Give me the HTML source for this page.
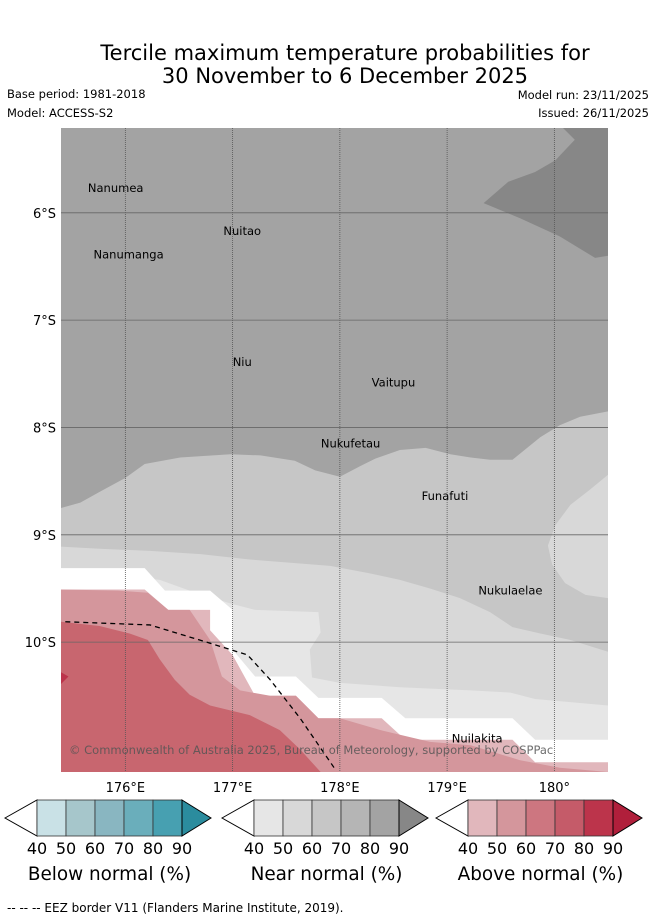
<!DOCTYPE html>
<html><head><meta charset="utf-8"><style>
body{margin:0;background:#fff;width:655px;height:919px;overflow:hidden;font-family:"DejaVu Sans","Liberation Sans",sans-serif}
svg{display:block;font-family:"DejaVu Sans","Liberation Sans",sans-serif}
</style></head><body>
<svg id="chart" width="655" height="919" viewBox="0 0 655 919">
<text x="345" y="60" text-anchor="middle" font-size="21" fill="#000">Tercile maximum temperature probabilities for</text>
<text x="345" y="83" text-anchor="middle" font-size="21" fill="#000">30 November to 6 December 2025</text>
<text x="7" y="98" font-size="11.5">Base period: 1981-2018</text>
<text x="7" y="117" font-size="11.5">Model: ACCESS-S2</text>
<text x="649" y="99" font-size="11.5" text-anchor="end">Model run: 23/11/2025</text>
<text x="649" y="117" font-size="11.5" text-anchor="end">Issued: 26/11/2025</text>
<defs><clipPath id="mapclip"><rect x="61" y="128" width="547" height="644"/></clipPath></defs>
<g id="map" clip-path="url(#mapclip)"></g>
<g id="overlay"></g>
<text x="7" y="912" font-size="12">--  --  -- EEZ border V11 (Flanders Marine Institute, 2019).</text>
</svg>
<script>
const NS='http://www.w3.org/2000/svg';
// map extents (lon E, lat S)
const lonMin=175.40, lonMax=180.50, latTop=5.21, latBot=11.21;
const lonTicks=[176,177,178,179,180];
const lonTickLabels=['176°E','177°E','178°E','179°E','180°'];
const latTicks=[6,7,8,9,10];
const latTickLabels=['6°S','7°S','8°S','9°S','10°S'];
// contour regions [lon,latS]
const regionDark=[[180.08,5.21],[180.19,5.32],[180.01,5.51],[179.82,5.62],[179.57,5.71],[179.34,5.91],[179.68,6.05],[180.05,6.22],[180.38,6.42],[180.50,6.40],[180.50,5.21]];
const regionLight1=[[175.40,8.75],[175.58,8.70],[175.76,8.60],[176.0,8.47],[176.18,8.34],[176.51,8.28],[176.98,8.25],[177.26,8.26],[177.58,8.31],[177.77,8.40],[178.0,8.46],[178.19,8.36],[178.33,8.29],[178.56,8.21],[178.80,8.19],[179.03,8.25],[179.22,8.28],[179.40,8.30],[179.61,8.30],[179.87,8.09],[180.05,7.98],[180.24,7.90],[180.50,7.85],[180.50,11.21],[175.40,11.21]];
const regionLight2=[[175.40,9.11],[175.76,9.13],[176.23,9.15],[176.70,9.18],[177.16,9.23],[177.91,9.29],[178.28,9.36],[178.56,9.42],[178.84,9.50],[179.12,9.59],[179.40,9.72],[179.61,9.86],[179.87,9.92],[180.15,9.98],[180.50,10.09],[180.50,11.21],[175.40,11.21]];
const regionLight2b=[[180.50,8.44],[180.33,8.58],[180.15,8.72],[180.01,8.91],[179.94,9.10],[179.98,9.28],[180.10,9.45],[180.29,9.56],[180.50,9.59]];
const regionLight3=[[176.32,9.42],[176.60,9.52],[176.98,9.64],[177.21,9.70],[177.80,9.72],[177.82,9.91],[177.72,10.07],[177.74,10.33],[178.0,10.38],[178.56,10.42],[179.22,10.45],[179.59,10.47],[179.82,10.53],[180.50,10.59],[180.50,11.21],[175.40,11.21],[175.40,9.31]];
const regionBlank=[[175.40,9.31],[176.18,9.31],[176.37,9.52],[176.79,9.52],[177.0,9.70],[177.0,10.07],[177.21,10.32],[177.59,10.32],[177.80,10.52],[178.39,10.52],[178.61,10.71],[179.61,10.71],[179.82,10.91],[180.50,10.91],[180.50,11.21],[175.40,11.21]];
const regionPink1=[[175.40,9.51],[176.18,9.51],[176.40,9.70],[176.79,9.70],[176.79,9.89],[177.0,10.12],[177.21,10.50],[177.59,10.50],[177.80,10.71],[178.39,10.71],[178.61,10.91],[179.61,10.91],[179.82,11.12],[180.50,11.12],[180.50,11.21],[175.40,11.21]];
const regionPink2=[[175.40,9.51],[175.93,9.52],[176.21,9.54],[176.40,9.70],[176.60,9.70],[176.79,9.98],[176.90,10.32],[177.07,10.45],[177.35,10.50],[177.59,10.50],[177.80,10.71],[178.0,10.71],[178.38,10.82],[178.84,10.93],[179.22,10.96],[179.68,11.10],[180.05,11.17],[180.50,11.21],[175.40,11.21]];
const regionPink3=[[175.40,9.81],[175.76,9.85],[176.04,9.92],[176.21,9.98],[176.32,10.16],[176.46,10.35],[176.60,10.49],[176.79,10.59],[177.16,10.68],[177.44,10.82],[177.63,11.00],[177.82,11.21],[175.40,11.21]];
const regionPink4=[[175.40,10.28],[175.47,10.32],[175.40,10.39]];
const eezLine=[[175.44,9.81],[176.23,9.84],[176.46,9.91],[176.79,10.01],[177.14,10.12],[177.35,10.35],[177.63,10.71],[177.96,11.19]];
const islandNames=['Nanumea','Nuitao','Nanumanga','Niu','Vaitupu','Nukufetau','Funafuti','Nukulaelae','Nuilakita'];
const islandLon=[175.91,177.09,176.03,177.09,178.50,178.10,178.98,179.59,179.28];
const islandLat=[5.77,6.17,6.39,7.39,7.58,8.15,8.64,9.52,10.90];
const below=['#c9e1e6','#a6c6cb','#89b6c1','#6aaebb','#47a0b1','#2b8c9e'];
const near=['#e6e6e6','#d8d8d8','#c6c6c6','#b5b5b5','#a3a3a3','#878787'];
const above=['#e1b7bc','#d4969c','#cd7680','#c55b69','#bc344b','#b01f3b'];
const cbTicks=['40','50','60','70','80','90'];

const x0=61,x1=608,y0=128,y1=772;
const X=l=>x0+(l-lonMin)/(lonMax-lonMin)*(x1-x0);
const Y=l=>y0+(l-latTop)/(latBot-latTop)*(y1-y0);
const map=document.getElementById('map'), ov=document.getElementById('overlay');
function el(t,a,p){const e=document.createElementNS(NS,t);for(const k in a)e.setAttribute(k,a[k]);p.appendChild(e);return e;}
const bg=el('rect',{x:x0,y:y0,width:x1-x0,height:y1-y0,fill:'#a3a3a3'},map);


function poly(pts,fill,name){const p=el('polygon',{points:pts.map(q=>X(q[0]).toFixed(1)+','+Y(q[1]).toFixed(1)).join(' '),fill:fill},map);

}
poly(regionDark,'#878787','near-normal-90-region');
poly(regionLight1,'#c6c6c6','near-normal-60-region');
poly(regionLight2,'#d8d8d8','near-normal-50-region');
poly(regionLight2b,'#d8d8d8','near-normal-50-region-east');
poly(regionLight3,'#e6e6e6','near-normal-40-region');
poly(regionBlank,'#ffffff','no-dominant-region');
poly(regionPink1,'#e1b7bc','above-normal-40-region');
poly(regionPink2,'#d4969c','above-normal-50-region');
poly(regionPink3,'#c8666f','above-normal-60-region');
poly(regionPink4,'#bc344b','above-normal-80-region');
lonTicks.forEach((v,i)=>{const l=el('line',{x1:X(v),x2:X(v),y1:y0,y2:y1,stroke:'#555','stroke-width':0.8,'stroke-dasharray':'1,1'},map);


const t=el('text',{x:X(v),y:792,'text-anchor':'middle','font-size':13},ov);t.textContent=lonTickLabels[i];

});
latTicks.forEach((v,i)=>{const l=el('line',{x1:x0,x2:x1,y1:Y(v),y2:Y(v),stroke:'#666','stroke-width':0.8},map);


const t=el('text',{x:56,y:Y(v)+5,'text-anchor':'end','font-size':13},ov);t.textContent=latTickLabels[i];

});
const ez=el('polyline',{points:eezLine.map(q=>X(q[0])+','+Y(q[1])).join(' '),fill:'none',stroke:'#000','stroke-width':1.3,'stroke-dasharray':'5,4'},map);


islandNames.forEach((n,i)=>{const t=el('text',{x:X(islandLon[i]),y:Y(islandLat[i])+4,'text-anchor':'middle','font-size':11.5},map);t.textContent=n;

});
const cp=el('text',{x:69,y:754,'font-size':11.5,fill:'#555','fill-opacity':0.85},map);cp.textContent='© Commonwealth of Australia 2025, Bureau of Meteorology, supported by COSPPac';


// colorbars
function cbar(x,cols,label,name){const g=el('g',{},ov);


const w=29,yt=800,h=36,left=x+32;
el('polygon',{points:`${x},${yt+h/2} ${left},${yt} ${left},${yt+h}`,fill:'#fff',stroke:'#000','stroke-width':1},g);
cols.slice(0,5).forEach((c,i)=>el('rect',{x:left+i*w,y:yt,width:w,height:h,fill:c,stroke:'#333','stroke-width':0.8},g));
const r=left+5*w;
el('polygon',{points:`${r},${yt} ${r+29},${yt+h/2} ${r},${yt+h}`,fill:cols[5],stroke:'#000','stroke-width':1},g);
cbTicks.forEach((t,i)=>{const tx=el('text',{x:left+i*w,y:854,'text-anchor':'middle','font-size':16},g);tx.textContent=t;});
const lb=el('text',{x:left+2.5*w,y:880,'text-anchor':'middle','font-size':18.4},g);lb.textContent=label;}
cbar(5,below,'Below normal (%)','below-normal-colorbar');
cbar(222,near,'Near normal (%)','near-normal-colorbar');
cbar(436,above,'Above normal (%)','above-normal-colorbar');
</script>
</body></html>
